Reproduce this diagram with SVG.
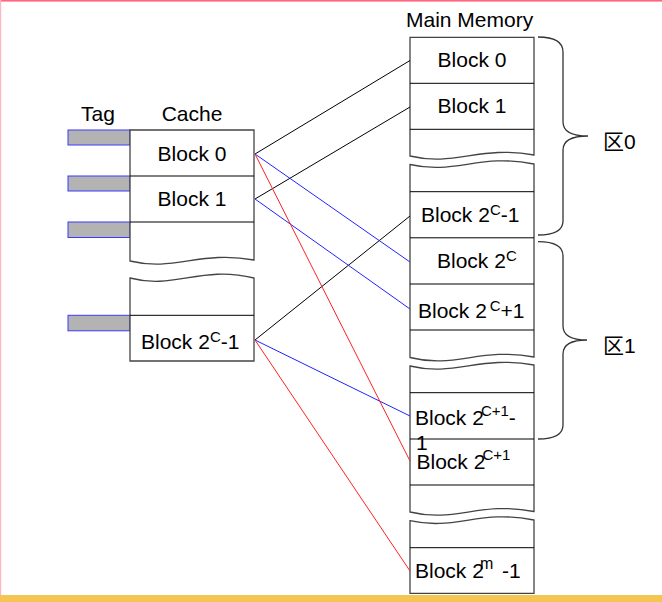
<svg xmlns="http://www.w3.org/2000/svg" width="662" height="602" viewBox="0 0 662 602">
<style>
text{font-family:"Liberation Sans","Noto Sans CJK SC",sans-serif;font-size:21px;fill:#000}
.sup{font-size:15px}
.seg{fill:#fff;stroke:#444;stroke-width:1.3}
.div{stroke:#000;stroke-width:1}
.tag{fill:#b3b3b3;stroke:#3a3aff;stroke-width:1}
.k{stroke:#000;stroke-width:1}
.b{stroke:#2222ff;stroke-width:1}
.r{stroke:#ff2222;stroke-width:1}
.brace{fill:none;stroke:#333;stroke-width:1.3}
</style>
<rect x="0" y="0" width="662" height="602" fill="#fff"/>
<rect x="0" y="0" width="662" height="1.6" fill="#ff6680"/>
<rect x="0" y="0" width="1.2" height="595" fill="#ffb6c1"/>
<rect x="0" y="595" width="662" height="7" fill="#f6c451"/>

<g id="labels">
<text x="98" y="121" text-anchor="middle">Tag</text>
<text x="192" y="121" text-anchor="middle">Cache</text>
<text x="406" y="27" font-size="21.5">Main Memory</text>
</g>

<g id="tags">
<rect class="tag" x="68" y="130" width="62" height="15"/>
<rect class="tag" x="68" y="176" width="62" height="15"/>
<rect class="tag" x="68" y="222" width="62" height="15.5"/>
<rect class="tag" x="68" y="315.3" width="62" height="15.5"/>
</g>

<g id="cache">
<path class="seg" d="M130,130 H254 V260 C200,250 175,272 130,261 Z"/>
<path class="seg" d="M130,278 C175,290 200,265 254,278 V361 H130 Z"/>
<line class="div" x1="130" y1="176" x2="254" y2="176"/>
<line class="div" x1="130" y1="222" x2="254" y2="222"/>
<line class="div" x1="130" y1="315.3" x2="254" y2="315.3"/>
<text x="192" y="161" text-anchor="middle">Block 0</text>
<text x="192" y="206" text-anchor="middle">Block 1</text>
<text x="141" y="349">Block 2<tspan class="sup" dy="-7">C</tspan><tspan dy="7">-1</tspan></text>
</g>

<g id="memory">
<path class="seg" d="M410,37.3 H534 V155 C480,145 455,167 410,156 Z"/>
<path class="seg" d="M410,164.5 C455,175 480,153 534,164 V357 C480,347 455,369 410,357.5 Z"/>
<path class="seg" d="M410,366 C455,377 480,355 534,365 V511.5 C480,501 455,523 410,512 Z"/>
<path class="seg" d="M410,520.7 C455,531 480,509 534,520 V593.3 H410 Z"/>
<line class="div" x1="410" y1="83.3" x2="534" y2="83.3"/>
<line class="div" x1="410" y1="129.3" x2="534" y2="129.3"/>
<line class="div" x1="410" y1="191.7" x2="534" y2="191.7"/>
<line class="div" x1="410" y1="237.8" x2="534" y2="237.8"/>
<line class="div" x1="410" y1="284" x2="534" y2="284"/>
<line class="div" x1="410" y1="330" x2="534" y2="330"/>
<line class="div" x1="410" y1="392.7" x2="534" y2="392.7"/>
<line class="div" x1="410" y1="439" x2="534" y2="439"/>
<line class="div" x1="410" y1="485" x2="534" y2="485"/>
<line class="div" x1="410" y1="547.7" x2="534" y2="547.7"/>
<text x="472" y="67" text-anchor="middle">Block 0</text>
<text x="472" y="113" text-anchor="middle">Block 1</text>
<text x="421" y="222">Block 2<tspan class="sup" dy="-7">C</tspan><tspan dy="7">-1</tspan></text>
<text x="437" y="268">Block 2<tspan class="sup" dy="-7">C</tspan></text>
<text x="418" y="318">Block 2 <tspan class="sup" dx="-3" dy="-7">C</tspan><tspan dy="7">+1</tspan></text>
<text x="415" y="425">Block 2<tspan class="sup" dx="-3" dy="-9">C+1</tspan><tspan dy="9">-</tspan></text>
<text x="416" y="450">1</text>
<text x="416.5" y="468.5">Block 2<tspan class="sup" dx="-3" dy="-9">C+1</tspan></text>
<text x="415" y="577.5">Block 2<tspan font-size="16" dx="-4" dy="-9">m</tspan><tspan dx="3" dy="9"> -1</tspan></text>
</g>

<g id="region0">
<path class="brace" d="M538,37 Q563,37 563,52 L563,122 Q563,136 588,136 Q563,136 563,150 L563,221 Q563,235 538,235"/>
<text x="603" y="149" font-size="20">区0</text>
</g>
<g id="region1">
<path class="brace" d="M538,241.7 Q563,241.7 563,256 L563,326 Q563,340 587,340 Q563,340 563,354 L563,425 Q563,439 538,439"/>
<text x="603" y="353" font-size="20">区1</text>
</g>

<g id="connectors">
<line class="k" x1="255" y1="154" x2="410" y2="60.5"/>
<line class="k" x1="255" y1="199" x2="410" y2="107"/>
<line class="k" x1="255" y1="340" x2="410" y2="216"/>
<line class="b" x1="255" y1="154" x2="410" y2="262"/>
<line class="b" x1="255" y1="199" x2="410" y2="309"/>
<line class="b" x1="255" y1="340" x2="410" y2="416"/>
<line class="r" x1="255" y1="154" x2="410" y2="461"/>
<line class="r" x1="255" y1="340" x2="410" y2="571"/>
</g>
</svg>
